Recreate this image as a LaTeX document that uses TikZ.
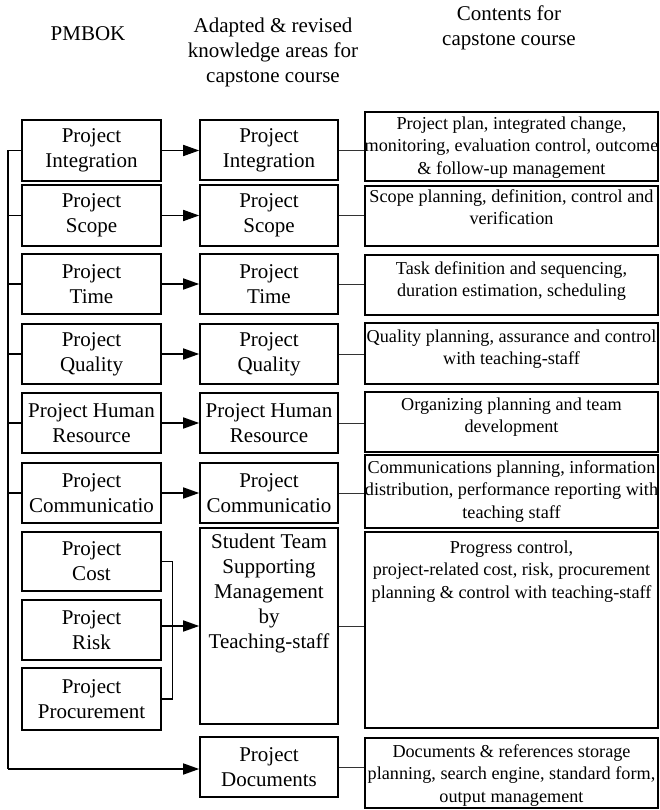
\documentclass[tikz,border=0pt]{standalone}
\usepackage{fontspec}
\setmainfont{Liberation Serif}
\usetikzlibrary{arrows.meta,calc}
\begin{document}
\begin{tikzpicture}[x=1pt,y=-1pt,
  every node/.style={font=\fontsize{21}{25}\selectfont, align=center, inner sep=0pt},
  box/.style={draw, line width=1.6pt},
  lbox/.style={box, minimum width=139pt},
  mbox/.style={box, minimum width=138pt},
  rbox/.style={box, minimum width=293pt},
  toptext/.style={anchor=north},
  rtext/.style={anchor=north, font=\fontsize{18.2}{22.5}\selectfont},
  trunk/.style={line width=1.6pt},
  arr/.style={line width=1.6pt, -{Triangle[length=16pt,width=11pt]}},
  bracket/.style={line width=1.2pt},
  thin/.style={line width=0.8pt, black!80}
]
\useasboundingbox (0,0) rectangle (659,810);

% headers
\node (h1) at (88,34) {PMBOK};
\node (h2) at (273,52) {Adapted \& revised\\knowledge areas for\\capstone course};
\node (h3) at (509,28) {Contents for\\capstone course};

% left column
\node[lbox, minimum height=61pt] (L1) at (91.5,150.5) {Project\\Integration};
\node[lbox, minimum height=61pt] (L2) at (91.5,215.5) {Project\\Scope};
\node[lbox, minimum height=60pt] (L3) at (91.5,284) {Project\\Time};
\node[lbox, minimum height=60pt] (L4) at (91.5,354) {Project\\Quality};
\node[lbox, minimum height=60pt] (L5) at (91.5,423) {Project Human\\Resource};
\node[lbox, minimum height=60pt] (L6) at (91.5,493) {Project\\Communicatio};
\node[lbox, minimum height=59pt] (L7) at (91.5,561.5) {Project\\Cost};
\node[lbox, minimum height=60pt] (L8) at (91.5,630) {Project\\Risk};
\node[lbox, minimum height=62pt] (L9) at (91.5,699) {Project\\Procurement};

% middle column
\node[mbox, minimum height=60pt] (M1) at (269,150) {Project\\Integration};
\node[mbox, minimum height=61pt] (M2) at (269,215.5) {Project\\Scope};
\node[mbox, minimum height=60pt] (M3) at (269,284) {Project\\Time};
\node[mbox, minimum height=60pt] (M4) at (269,354) {Project\\Quality};
\node[mbox, minimum height=60pt] (M5) at (269,423) {Project Human\\Resource};
\node[mbox, minimum height=60pt] (M6) at (269,493) {Project\\Communicatio};
\node[mbox, minimum height=196pt] (M7) at (269,626) {};
\node[toptext] (M7t) at ($(M7.north)+(0,7)$) {Student Team\\Supporting\\Management\\by\\Teaching-staff};
\node[mbox, minimum height=60pt] (M8) at (269,767) {Project\\Documents};

% right column
\node[rbox, minimum height=69pt] (R1) at (511.5,146.5) {};
\node[rtext] (R1t) at ($(R1.north)+(0,5)$) {Project plan, integrated change,\\monitoring, evaluation control, outcome\\\& follow-up management};
\node[rbox, minimum height=60pt] (R2) at (511.5,216) {};
\node[rtext] (R2t) at ($(R2.north)+(0,4)$) {Scope planning, definition, control and\\verification};
\node[rbox, minimum height=60pt] (R3) at (511.5,285) {};
\node[rtext] (R3t) at ($(R3.north)+(0,7)$) {Task definition and sequencing,\\duration estimation, scheduling};
\node[rbox, minimum height=61pt] (R4) at (511.5,353.5) {};
\node[rtext] (R4t) at ($(R4.north)+(0,7)$) {Quality planning, assurance and control\\with teaching-staff};
\node[rbox, minimum height=60pt] (R5) at (511.5,422) {};
\node[rtext] (R5t) at ($(R5.north)+(0,6)$) {Organizing planning and team\\development};
\node[rbox, minimum height=73pt] (R6) at (511.5,491.5) {};
\node[rtext] (R6t) at ($(R6.north)+(0,6)$) {Communications planning, information\\distribution, performance reporting with\\teaching staff};
\node[rbox, minimum height=196pt] (R7) at (511.5,630) {};
\node[rtext] (R7t) at ($(R7.north)+(0,9)$) {Progress control,\\project-related cost, risk, procurement\\planning \& control with teaching-staff};
\node[rbox, minimum height=70pt] (R8) at (511.5,773) {};
\node[rtext] (R8t) at ($(R8.north)+(0,7)$) {Documents \& references storage\\planning, search engine, standard form,\\output management};

% left trunk
\coordinate (ttop) at (8,150.5);
\coordinate (tbot) at (8,769);
\draw[trunk] (L1.west) -- (ttop) -- (tbot);
\foreach \i in {2,...,6} {\draw[trunk] (L\i.west) -- (L\i.west -| ttop);}
\draw[arr] (tbot) -- (tbot -| M8.west);

% arrows left -> middle
\foreach \i in {1,...,6} {\draw[arr] (L\i.east) -- (L\i.east -| M\i.west);}

% bracket cost/risk/procurement
\draw[bracket] (L7.east) -- ++(11,0) |- (L9.east);
\draw[arr] (L8.east |- M7.west) -- (M7.west);

% thin connectors middle -> right
\foreach \i in {1,...,8} {\draw[thin] (M\i.east) -- (M\i.east -| R\i.west);}
\end{tikzpicture}
\end{document}
